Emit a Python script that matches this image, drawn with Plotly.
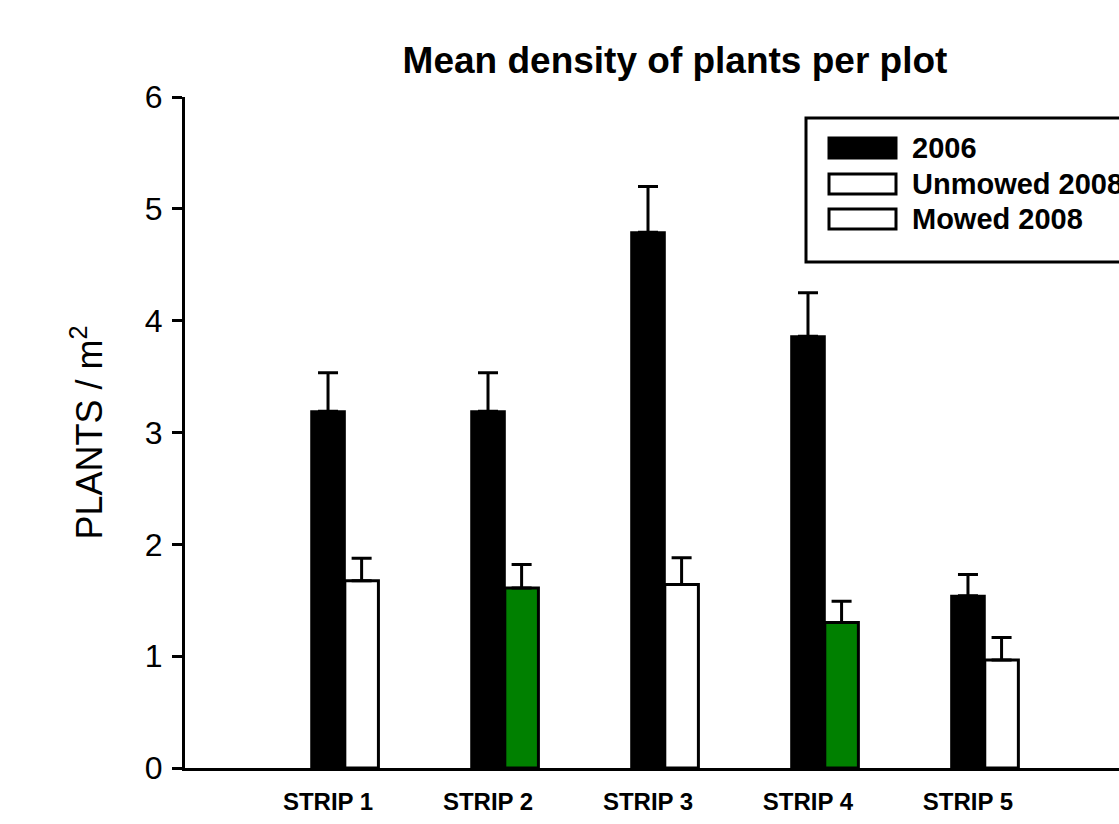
import plotly.graph_objects as go

strips = ["STRIP 1", "STRIP 2", "STRIP 3", "STRIP 4", "STRIP 5"]
strip_pos = [1, 2, 3, 4, 5]

val_2006 = [3.19, 3.19, 4.79, 3.86, 1.54]
err_2006 = [0.345, 0.345, 0.41, 0.39, 0.19]

val_unmowed = [1.675, None, 1.64, None, 0.966]
err_unmowed = [0.20, None, 0.24, None, 0.20]

val_mowed = [None, 1.61, None, 1.30, None]
err_mowed = [None, 0.21, None, 0.19, None]

BAR_W = 0.21
FONT = "Liberation Sans, Arial, sans-serif"

fig = go.Figure()

def err(arr):
    return dict(type="data", array=arr, visible=True, color="black",
                thickness=3, width=10, symmetric=False, arrayminus=[0]*len(arr))

fig.add_trace(go.Bar(
    x=strip_pos, y=val_2006, width=BAR_W, offset=-BAR_W/2,
    marker=dict(color="black", line=dict(color="black", width=2)),
    error_y=err(err_2006), name="2006", showlegend=False))

fig.add_trace(go.Bar(
    x=strip_pos, y=val_unmowed, width=BAR_W, offset=BAR_W/2,
    marker=dict(color="white", line=dict(color="black", width=3)),
    error_y=err(err_unmowed), name="Unmowed 2008", showlegend=False))

fig.add_trace(go.Bar(
    x=strip_pos, y=val_mowed, width=BAR_W, offset=BAR_W/2,
    marker=dict(color="#008000", line=dict(color="black", width=3)),
    error_y=err(err_mowed), name="Mowed 2008", showlegend=False))

# manual legend (paper coordinates)
PW, PH, PL, PB = 934, 671, 185, 768
def px(x):
    return (x - PL) / PW
def py(y):
    return (PB - y) / PH

legend_items = [("2006", "black"), ("Unmowed 2008", "white"), ("Mowed 2008", "white")]
shapes = [dict(type="rect", xref="paper", yref="paper",
               x0=px(806), x1=px(1135), y0=py(262), y1=py(118),
               line=dict(color="black", width=3), fillcolor="white", layer="above")]
annotations = []
row_y = [148, 184, 219]
for (lab, col), yy in zip(legend_items, row_y):
    shapes.append(dict(type="rect", xref="paper", yref="paper",
                       x0=px(829), x1=px(896), y0=py(yy + 10), y1=py(yy - 10),
                       line=dict(color="black", width=3), fillcolor=col, layer="above"))
    annotations.append(dict(xref="paper", yref="paper", x=px(910), y=py(yy),
                            text="<b>%s</b>" % lab, showarrow=False, xanchor="left",
                            yanchor="middle", font=dict(family=FONT, size=29, color="black")))

fig.update_layout(
    width=1119, height=824,
    margin=dict(l=185, r=0, t=97, b=56),
    paper_bgcolor="white", plot_bgcolor="white",
    barmode="overlay",
    title=dict(text="<b>Mean density of plants per plot</b>", x=675/1119, xanchor="center",
               y=1 - 60/824, yanchor="middle",
               font=dict(family=FONT, size=37, color="black")),
    xaxis=dict(range=[0.106, 5.944], tickmode="array", tickvals=strip_pos,
               ticktext=["<b>%s</b>" % s for s in strips],
               showline=True, linecolor="black", linewidth=3, ticks="", showgrid=False,
               zeroline=False, ticklabelstandoff=10,
               tickfont=dict(family=FONT, size=24, color="black")),
    yaxis=dict(range=[0, 6], tickvals=[0, 1, 2, 3, 4, 5, 6], showline=True, linecolor="black",
               linewidth=3, ticks="outside", ticklen=10, tickwidth=2.5, tickcolor="black",
               showgrid=False, zeroline=False, ticklabelstandoff=3,
               tickfont=dict(family=FONT, size=32, color="black"),
               title=dict(text="PLANTS / m<sup>2</sup>", font=dict(family=FONT, size=36, color="black"),
                          standoff=32)),
    shapes=shapes, annotations=annotations, showlegend=False,
)

fig.write_html("out.html")
